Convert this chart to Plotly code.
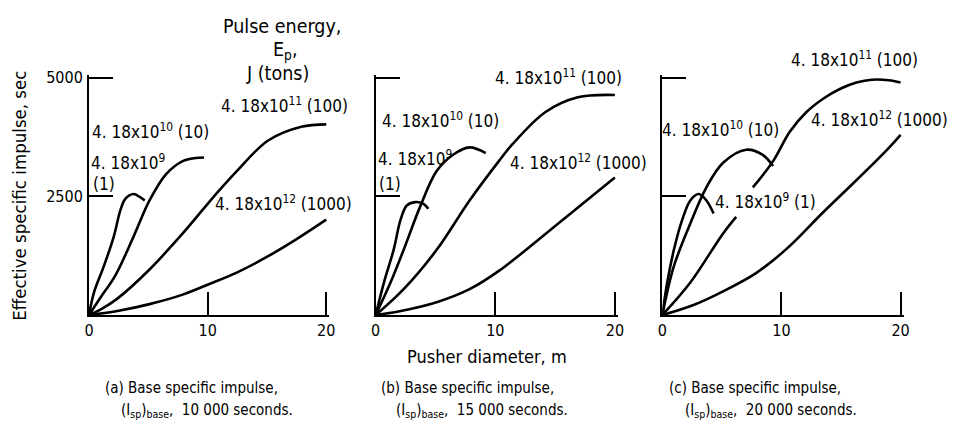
import plotly.graph_objects as go

W, H = 955, 441
FONT = "DejaVu Sans Condensed, sans-serif"

# ---------------- data ----------------
# panel (a) base Isp 10 000 s
a_e9_x = [0, 0.42, 1.25, 2.08, 2.64, 3.06, 3.75, 4.3, 4.7]
a_e9_y = [0, 477, 1030, 1650, 2205, 2450, 2550, 2485, 2415]
a_e10_x = [0, 1.0, 2.2, 3.75, 5.1, 6.5, 7.9, 9.0, 9.7]
a_e10_y = [0, 380, 825, 1650, 2415, 2970, 3245, 3310, 3320]
a_e11_x = [0, 1.0, 2.36, 5.1, 7.9, 10.7, 12.4, 15.1, 17.9, 20]
a_e11_y = [0, 120, 340, 960, 1720, 2550, 3020, 3680, 3970, 4020]
a_e12_x = [0, 2.5, 5.1, 7.9, 10.1, 12.5, 15.1, 17.5, 20]
a_e12_y = [0, 90, 230, 430, 650, 900, 1240, 1600, 2010]

# panel (b) base Isp 15 000 s
b_e9_x = [0, 0.69, 1.5, 2.07, 2.6, 3.3, 4.0, 4.4]
b_e9_y = [0, 685, 1375, 2000, 2310, 2380, 2345, 2240]
b_e10_x = [0, 1.24, 2.34, 3.7, 5.1, 6.47, 7.85, 9.2]
b_e10_y = [0, 685, 1375, 2275, 3035, 3380, 3535, 3415]
b_e11_x = [0, 2.34, 5.1, 7.85, 10.3, 11.4, 14.2, 16.9, 20]
b_e11_y = [0, 545, 1375, 2415, 3245, 3590, 4280, 4590, 4640]
b_e12_x = [0, 2.0, 5.1, 7.85, 10.3, 15.6, 20]
b_e12_y = [0, 80, 270, 545, 930, 2000, 2900]

# panel (c) base Isp 20 000 s
c_e9_x = [0, 0.41, 0.97, 1.66, 2.35, 3.05, 3.7, 4.3]
c_e9_y = [0, 685, 1375, 2000, 2415, 2550, 2415, 2140]
c_e10_x = [0, 0.97, 2.35, 3.7, 5.1, 7.05, 8.4, 9.3]
c_e10_y = [0, 1030, 1930, 2690, 3210, 3485, 3380, 3140]
c_e11_x = [0, 2.35, 5.1, 6.2, None, 7.6, 9.3, 10.7, 12.1, 13.5, 14.9, 16.3, 17.6, 19.0, 20]
c_e11_y = [0, 685, 1720, 2070, None, 2690, 3245, 3865, 4280, 4560, 4765, 4900, 4960, 4950, 4900]
c_e12_x = [0, 2.5, 5.1, 7.9, 10.5, 13.4, 16.2, 19.0, 20]
c_e12_y = [0, 200, 500, 890, 1410, 2140, 2820, 3520, 3800]

x_ticks = [0, 10, 20]
x_tick_text = ["0", "10", "20"]
y_ticks = [2500, 5000]
y_tick_text = ["2500", "5000"]

panels = [
    [(a_e9_x, a_e9_y), (a_e10_x, a_e10_y), (a_e11_x, a_e11_y), (a_e12_x, a_e12_y)],
    [(b_e9_x, b_e9_y), (b_e10_x, b_e10_y), (b_e11_x, b_e11_y), (b_e12_x, b_e12_y)],
    [(c_e9_x, c_e9_y), (c_e10_x, c_e10_y), (c_e11_x, c_e11_y), (c_e12_x, c_e12_y)],
]

# ---------------- layout geometry ----------------
def px(x):
    return x / W

def py(y):
    return 1 - y / H

X_MAX, Y_MAX = 20.25, 5060          # a little head-room so end ticks are drawn
# pixel positions of x=0 and x=20 per panel, y=0 and y=5000
x_pix = [(85, 325), (375, 617), (665, 906)]
y0_pix, y5k_pix = 313, 72
y_top_pix = y0_pix - (y0_pix - y5k_pix) * Y_MAX / 5000
y_dom = [py(y0_pix), py(y_top_pix)]

fig = go.Figure()
for i, curves in enumerate(panels):
    sfx = "" if i == 0 else str(i + 1)
    for (xs, ys) in curves:
        fig.add_trace(go.Scatter(
            x=xs, y=ys, mode="lines",
            line=dict(color="black", width=2.6, shape="spline", smoothing=1.0),
            xaxis="x" + sfx, yaxis="y" + sfx, showlegend=False,
            hoverinfo="skip", cliponaxis=False, connectgaps=False,
        ))

layout = dict(
    width=W, height=H, autosize=False,
    margin=dict(l=0, r=0, t=0, b=0),
    paper_bgcolor="white", plot_bgcolor="white",
    font=dict(family=FONT, color="black", size=16),
    showlegend=False,
)
for i, (x0, x20) in enumerate(x_pix):
    sfx = "" if i == 0 else str(i + 1)
    x_end = x0 + (x20 - x0) * X_MAX / 20
    layout["xaxis" + sfx] = dict(
        domain=[px(x0), px(x_end)], range=[0, X_MAX], anchor="y" + sfx,
        showline=True, linecolor="black", linewidth=2,
        showgrid=False, zeroline=False,
        tickmode="array", tickvals=x_ticks, ticktext=x_tick_text,
        ticks="inside", ticklen=23, tickwidth=2, tickcolor="black",
        tickfont=dict(size=16, family=FONT), fixedrange=True,
    )
    layout["yaxis" + sfx] = dict(
        domain=y_dom, range=[0, Y_MAX], anchor="x" + sfx,
        showline=True, linecolor="black", linewidth=2,
        showgrid=False, zeroline=False,
        tickmode="array", tickvals=y_ticks, ticktext=y_tick_text,
        ticks="inside", ticklen=24, tickwidth=2, tickcolor="black",
        showticklabels=(i == 0), ticklabelstandoff=1,
        tickfont=dict(size=16, family=FONT), fixedrange=True,
    )
fig.update_layout(**layout)

ann = []
def text(x, y, s, size=17, xanchor="left", yanchor="middle", align="left", angle=0):
    ann.append(dict(x=px(x), y=py(y), xref="paper", yref="paper", text=s,
                    showarrow=False, xanchor=xanchor, yanchor=yanchor,
                    align=align, textangle=angle, borderpad=0,
                    font=dict(size=size, family=FONT, color="black")))

L9 = "4. 18x10<sup>9</sup>"
L10 = "4. 18x10<sup>10</sup> (10)"
L11 = "4. 18x10<sup>11</sup> (100)"
L12 = "4. 18x10<sup>12</sup> (1000)"

# header
text(280, 20, "Pulse energy,", xanchor="center", size=19.5)
text(283, 44, "E<sub>p</sub>,", xanchor="center", size=19.5)
text(276, 68, "J (tons)", xanchor="center", size=19.5)

# panel a labels
text(87, 126, L10)
text(86, 157, L9)
text(88, 180, "(1)")
text(217, 100, L11)
text(211, 199, L12)

# panel b labels
text(380, 115, L10)
text(376, 153, L9)
text(377, 180, "(1)")
text(495, 71, L11)
text(510, 157, L12)

# panel c labels
text(664, 124, L10)
text(717, 197, L9 + " (1)")
text(794, 53, L11)
text(814, 114, L12)

# axis titles
text(15, 192, "Effective specific impulse, sec", xanchor="center", angle=-90, size=18.5)
text(488, 355, "Pusher diameter, m", xanchor="center", size=18)

# captions
caps = [
    (100, "(a) Base specific impulse,", 116, "(I<sub>sp</sub>)<sub>base</sub>,  10 000 seconds."),
    (379, "(b) Base specific impulse,", 395, "(I<sub>sp</sub>)<sub>base</sub>,  15 000 seconds."),
    (671, "(c) Base specific impulse,", 687, "(I<sub>sp</sub>)<sub>base</sub>,  20 000 seconds."),
]
for x1, t1, x2, t2 in caps:
    text(x1, 387, t1, size=15)
    text(x2, 410, t2, size=15)

fig.update_layout(annotations=ann)
fig.write_html("out.html")
